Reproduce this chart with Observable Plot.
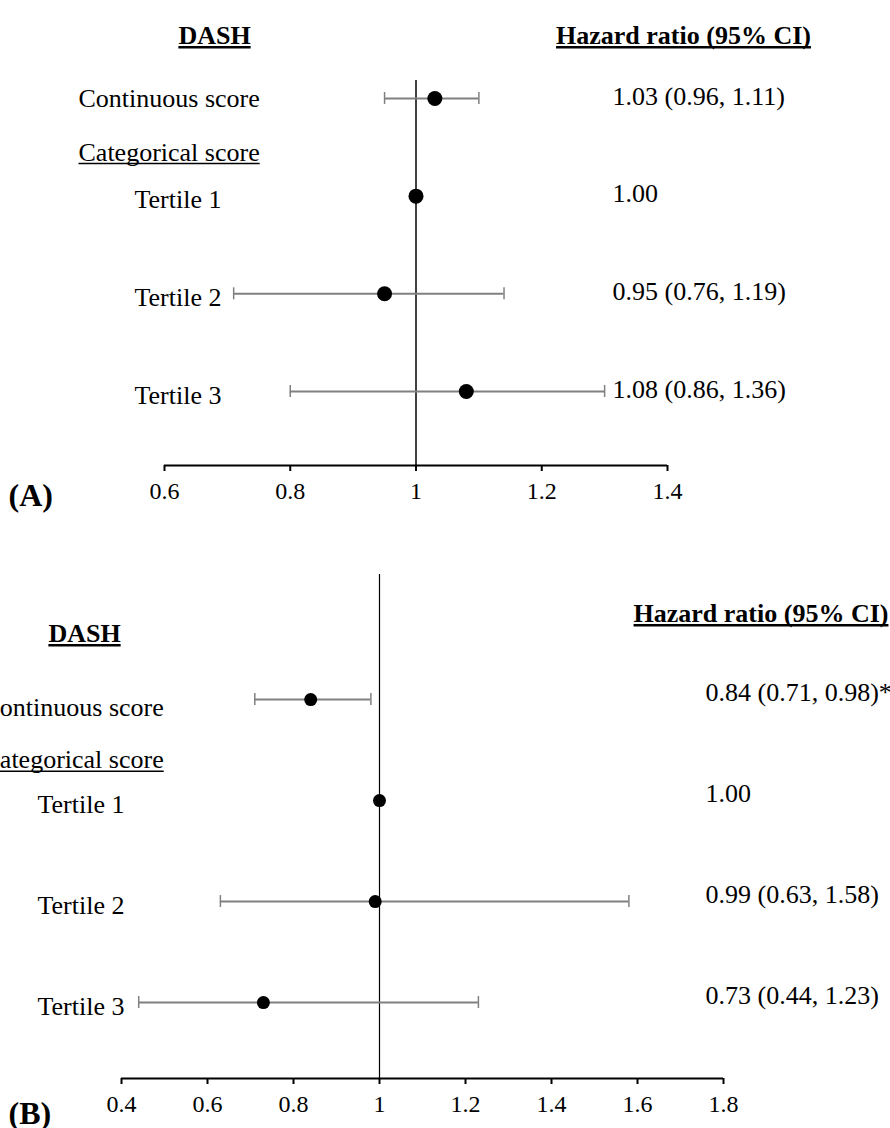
<!DOCTYPE html>
<html><head><meta charset="utf-8">
<script src="https://cdn.jsdelivr.net/npm/d3@7"></script>
<script src="https://cdn.jsdelivr.net/npm/@observablehq/plot@0.6"></script>
<style>
html,body{margin:0;padding:0;background:#fff;overflow:hidden}
#chart svg{display:block}
</style></head><body><div id="chart"></div>
<script>
// Shared labels
const rowLabels = ["Continuous score", "Tertile 1", "Tertile 2", "Tertile 3"];
const headingLabel = "Categorical score";
const sectionTitle = "DASH";
const valueTitle = "Hazard ratio (95% CI)";

// Panel A
const hrA = [1.03, 1.00, 0.95, 1.08];
const loA = [0.95, null, 0.71, 0.80];
const hiA = [1.10, null, 1.14, 1.30];
const ciTextA = ["1.03 (0.96, 1.11)", "1.00", "0.95 (0.76, 1.19)", "1.08 (0.86, 1.36)"];
const ticksA = [0.6, 0.8, 1, 1.2, 1.4];

// Panel B
const hrB = [0.84, 1.00, 0.99, 0.73];
const loB = [0.71, null, 0.63, 0.44];
const hiB = [0.98, null, 1.58, 1.23];
const ciTextB = ["0.84 (0.71, 0.98)*", "1.00", "0.99 (0.63, 1.58)", "0.73 (0.44, 1.23)"];
const ticksB = [0.4, 0.6, 0.8, 1, 1.2, 1.4, 1.6, 1.8];

function panel(o) {
  const rows = rowLabels.map((label, i) => ({label, row: i + 1, hr: o.hr[i], lo: o.lo[i], hi: o.hi[i], txt: o.txt[i]}));
  const ci = rows.filter(d => d.lo != null);
  const cont = rows.slice(0, 1);
  const terts = rows.slice(1);
  const gray = "#808080";
  return Plot.plot({
    width: 890, height: o.height,
    marginLeft: o.ml, marginRight: o.mr, marginTop: o.mt, marginBottom: o.mb,
    style: {fontFamily: '"Liberation Serif","Times New Roman",serif', fontSize: "26px", color: "black", background: "white", overflow: "visible"},
    x: {domain: o.xDomain, label: null},
    y: {domain: o.yDomain, reverse: true, axis: null, label: null},
    marks: [
      Plot.ruleX([1], {stroke: "black", strokeWidth: o.refW}),
      Plot.ruleY([o.yDomain[1]], {stroke: "black", strokeWidth: 2}),
      Plot.axisX({ticks: o.ticks, tickFormat: d => String(d), tickSize: 6, tickPadding: 10, fontSize: 24, strokeWidth: 2, label: null}),
      Plot.ruleY(ci, {x1: "lo", x2: "hi", y: "row", stroke: gray, strokeWidth: 2}),
      Plot.ruleX(ci, {x: "lo", y1: "row", y2: "row", insetTop: -6, insetBottom: -6, stroke: gray, strokeWidth: 1.5}),
      Plot.ruleX(ci, {x: "hi", y1: "row", y2: "row", insetTop: -6, insetBottom: -6, stroke: gray, strokeWidth: 1.5}),
      Plot.dot(rows, {x: "hr", y: "row", r: o.r, fill: "black", stroke: "none"}),
      // row labels
      Plot.text(cont, {y: "row", text: "label", frameAnchor: "left", dx: o.contDx, dy: o.contDy, textAnchor: "start", fill: "black"}),
      Plot.text(terts, {y: "row", text: "label", frameAnchor: "left", dx: o.tertDx, dy: o.tertDy, textAnchor: "start", fill: "black"}),
      Plot.text([headingLabel], {y: () => 1.5, text: d => d, frameAnchor: "left", dx: o.contDx, dy: o.headDy, textAnchor: "start", fill: "black"}),
      // values
      Plot.text(rows, {y: "row", text: "txt", frameAnchor: "left", dx: o.valDx, dy: o.valDy, textAnchor: "start", fill: "black"}),
      // headers
      Plot.text([sectionTitle], {text: d => d, frameAnchor: "top-left", dx: o.titleDx, dy: o.titleDy, textAnchor: "middle", fontWeight: "bold", fill: "black"}),
      Plot.text([valueTitle], {text: d => d, frameAnchor: "top-right", dx: o.hrDx, dy: o.hrDy, textAnchor: "middle", fontWeight: "bold", fill: "black"}),
      // panel letter
      Plot.text([o.letter], {text: d => d, frameAnchor: "bottom-left", dx: o.letDx, dy: o.letDy, textAnchor: "start", fontWeight: "bold", fontSize: 32, fill: "black"})
    ]
  });
}

// Underline the header texts (SVG text-decoration is unreliable)
function underline(svg) {
  const targets = new Map([[headingLabel, false], [sectionTitle, true], [valueTitle, true]]);
  svg.querySelectorAll("text").forEach(t => {
    const txt = t.textContent;
    if (!targets.has(txt)) return;
    const bold = targets.get(txt);
    const b = t.getBBox();
    const base = b.y + b.height * 0.805;
    const off = bold ? 3 : 2.5;
    const line = document.createElementNS("http://www.w3.org/2000/svg", "line");
    line.setAttribute("x1", b.x);
    line.setAttribute("x2", b.x + b.width);
    line.setAttribute("y1", base + off);
    line.setAttribute("y2", base + off);
    line.setAttribute("stroke", "black");
    line.setAttribute("stroke-width", bold ? 2.4 : 1.6);
    if (t.getAttribute("transform")) line.setAttribute("transform", t.getAttribute("transform"));
    t.parentNode.appendChild(line);
  });
}

const chart = document.getElementById("chart");
const svgA = panel({
  hr: hrA, lo: loA, hi: hiA, txt: ciTextA, ticks: ticksA, letter: "(A)",
  height: 545, ml: 164, mr: 223, mt: 80, mb: 80,
  xDomain: [0.6, 1.4], yDomain: [0.816, 4.758], r: 7.5, refW: 1.5,
  contDx: -86, contDy: 0, tertDx: -30, tertDy: 4, headDy: 5,
  valDx: 448, valDy: -2,
  titleDx: 50, titleDy: -55, hrDx: 16, hrDy: -55,
  letDx: -156, letDy: 40
});
const svgB = panel({
  hr: hrB, lo: loB, hi: hiB, txt: ciTextB, ticks: ticksB, letter: "(B)",
  height: 583, ml: 121, mr: 167, mt: 29, mb: 50,
  xDomain: [0.4, 1.8], yDomain: [-0.238, 4.752], r: 6.5, refW: 1.2,
  contDx: -139, contDy: 8, tertDx: -84, tertDy: 4, headDy: 10,
  valDx: 584, valDy: -7,
  titleDx: -37, titleDy: 49, hrDx: 37.5, hrDy: 29,
  letDx: -113, letDy: 45
});
chart.append(svgA, svgB);
underline(svgA);
underline(svgB);
</script></body></html>
